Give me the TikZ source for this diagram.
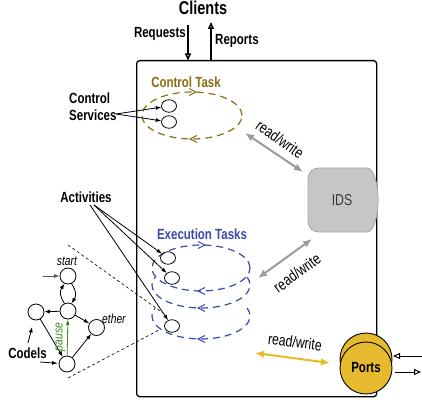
\documentclass[tikz,border=0pt]{standalone}
\usepackage{fontspec}
\setmainfont{Liberation Sans}
\usetikzlibrary{arrows.meta,shapes.geometric}

\definecolor{ctl}{HTML}{8A6D13}
\definecolor{exe}{HTML}{3A4AA8}
\definecolor{pgold}{HTML}{E6B92E}
\definecolor{rwgray}{HTML}{9C9C9C}
\definecolor{rwgold}{HTML}{E9B92A}
\definecolor{idsfill}{HTML}{C6C6C6}
\definecolor{idsline}{HTML}{A6A6A6}
\definecolor{idstext}{HTML}{3A3A3A}
\definecolor{pausegreen}{HTML}{3F8A1F}

% lettering is set a little taller than the font's own proportions
\newcommand\tallt[1]{\scalebox{1}[1.28]{#1}}

\tikzset{
  lbl/.style={font=\fontsize{11.5}{17}\selectfont\bfseries, align=center, inner sep=0},
  rwlbl/.style={font=\fontsize{12.3}{14}\selectfont\mdseries, inner sep=0},
  itlbl/.style={font=\fontsize{10.3}{12}\selectfont\mdseries\itshape, inner sep=0},
  act/.style={draw, ellipse, minimum width=15, minimum height=12.5, inner sep=0, line width=0.8},
  codel/.style={draw, circle, minimum size=16, inner sep=0, line width=0.8},
  conn/.style={-{Latex[length=5.5,width=4]}, line width=0.8},
  iolink/.style={-{Triangle[open,length=7,width=6]}, line width=1.5},
  rwlink/.style={{Latex[length=9,width=7.5]}-{Latex[length=9,width=7.5]}, line width=2},
  zoomline/.style={dash pattern=on 3 off 2.5, line width=0.6},
  ctldash/.style={draw=ctl, line width=1.2, dash pattern=on 7 off 5},
  exedash/.style={draw=exe, line width=1.2, dash pattern=on 7 off 5},
  chevr/.pic={\draw[line width=1.1] (-4,-3.5) -- (3,0) -- (-4,3.5);},
  chevl/.pic={\draw[line width=1.1] (4,-3.5) -- (-3,0) -- (4,3.5);}
}

\begin{document}
\begin{tikzpicture}[x=1pt,y=-1pt]
\useasboundingbox (0,0) rectangle (422,403);

% module frame
\node[draw, rounded corners=3, line width=1.3, minimum width=240, minimum height=336,
      inner sep=0, anchor=north west] (box) at (136,60) {};

% clients and their requests / reports
\node[lbl, font=\fontsize{14.5}{16}\selectfont\bfseries] (clients) at (203,8) {\tallt{Clients}};
\coordinate (rqtop) at (188,25);
\coordinate (rqbot) at (188,60.5);
\coordinate (rpbot) at (211,60);
\coordinate (rptop) at (211,22);
\draw[iolink] (rqtop) -- (rqbot);
\draw[iolink] (rpbot) -- (rptop);
\node[lbl, anchor=east] (requests) at (186,34) {\tallt{Requests}};
\node[lbl, anchor=west] (reports) at (215,41) {\tallt{Reports}};

% control task
\node[lbl, text=ctl] (ctltitle) at (186,82) {\tallt{Control Task}};
\node[ctldash, ellipse, minimum width=100, minimum height=47, inner sep=0] (ctlloop) at (192,115.5) {};
\pic[color=ctl] at (193,92) {chevr};
\pic[color=ctl] at (193,139) {chevl};
\node[act] (cs1) at (169,106) {};
\node[act] (cs2) at (169,122) {};
\node[lbl, align=left, anchor=west] (services) at (69,106.5) {\tallt{Control}\\\tallt{Services}};
\coordinate (csfrom) at (116,114);
\draw[conn] (csfrom) -- (cs1);
\draw[conn] (csfrom) -- (cs2);

% IDS
\path[fill=idsfill, draw=idsline, line width=0.8]
  (320,168) -- (367,168) .. controls (374,168) and (378,184) .. (378,200)
  .. controls (378,216) and (374,232) .. (367,232)
  -- (320,232) .. controls (312,232) and (308,228) .. (308,220)
  -- (308,180) .. controls (308,172) and (312,168) .. (320,168) -- cycle;
\node[rwlbl, text=idstext] (ids) at (342,200) {\tallt{IDS}};

% execution tasks
\node[lbl, text=exe] (exetitle) at (202,234) {\tallt{Execution Tasks}};
\node[exedash, ellipse, minimum width=98, minimum height=46, inner sep=0] (exeloop) at (201,268) {};
\draw[exedash] (247.04,277.13) arc[start angle=-20, end angle=200, x radius=49, y radius=23];
\draw[exedash] (247.04,308.13) arc[start angle=-20, end angle=200, x radius=49, y radius=23];
\pic[color=exe] at (202,245) {chevr};
\pic[color=exe] at (201,291) {chevl};
\pic[color=exe] at (201,308) {chevl};
\pic[color=exe] at (201,339) {chevl};
\node[act] (ea1) at (168,258) {};
\node[act] (ea2) at (172,278) {};
\node[act] (ea3) at (172,326) {};

\node[lbl] (activities) at (86,197) {\tallt{Activities}};
\coordinate (acfrom) at (94,205);
\coordinate (acfromb) at (90,205);
\draw[conn] (acfrom) -- (ea1);
\draw[conn] (acfrom) -- (ea2);
\draw[conn] (acfromb) -- (ea3);

% read/write links
\coordinate (rw1a) at (245,133);
\coordinate (rw1b) at (303,172);
\draw[rwlink, rwgray] (rw1a) -- (rw1b);
\node[rwlbl, rotate=-35] (rw1lbl) at (280,139) {\tallt{read/write}};

\coordinate (rw2a) at (258,278);
\coordinate (rw2b) at (312,239);
\draw[rwlink, rwgray] (rw2a) -- (rw2b);
\node[rwlbl, rotate=36] (rw2lbl) at (297,273) {\tallt{read/write}};

% ports
\node[draw, circle, fill=pgold, line width=0.9, minimum size=52, inner sep=0] (portsback) at (366,359) {};
\node[draw, circle, fill=pgold, line width=0.9, minimum size=52, inner sep=0, lbl] (ports) at (366,368) {\tallt{Ports}};
\coordinate (pinfrom) at (422,356);
\coordinate (pinto) at (393,356);
\coordinate (poutfrom) at (395,372);
\coordinate (poutto) at (421,372);
\draw[iolink, line width=1] (pinfrom) -- (pinto);
\draw[iolink, line width=1] (poutfrom) -- (poutto);

\coordinate (rw3a) at (255,353);
\coordinate (rw3b) at (330,363);
\draw[rwlink, rwgold] (rw3a) -- (rw3b);
\node[rwlbl, rotate=-7] (rw3lbl) at (295,342) {\tallt{read/write}};

% codel automaton of one activity
\coordinate (zt0) at (68,245);
\coordinate (zt1) at (163,313);
\coordinate (zb0) at (68,378);
\coordinate (zb1) at (159,330);
\draw[zoomline] (zt0) -- (zt1);
\draw[zoomline] (zb0) -- (zb1);

\node[codel] (start) at (68,276) {};
\node[codel] (mid) at (68,311) {};
\node[codel] (left) at (36,312) {};
\node[codel] (ether) at (96.5,327.5) {};
\node[codel] (bot) at (67,364) {};
\node[itlbl] (startlbl) at (67,261) {\tallt{start}};
\node[itlbl, anchor=west] (etherlbl) at (102,319) {\tallt{ether}};

\coordinate (entry) at (43,276);
\draw[conn, gray!70!black] (entry) -- (start);
\draw[conn] (mid.115) .. controls +(-5,-8) and +(-5,8) .. (start.245);
\draw[conn] (start.-65) .. controls +(5,8) and +(5,-8) .. (mid.65);
\draw[conn] (mid) -- (left);
\draw[conn] (mid) -- (ether);
\draw[conn] (left) -- (bot);
\draw[conn] (bot) -- (ether);
\draw[conn, pausegreen] (bot) -- (mid);
\node[itlbl, text=pausegreen, rotate=90] (pauselbl) at (60.5,337) {\tallt{pause}};

\node[lbl] (codels) at (27.5,353) {\tallt{Codels}};
\coordinate (cdup) at (28,343);
\coordinate (cdright) at (40,362);
\draw[conn, shorten >=7] (cdup) -- (left);
\draw[conn, shorten >=1] (cdright) -- (bot);
\end{tikzpicture}
\end{document}
